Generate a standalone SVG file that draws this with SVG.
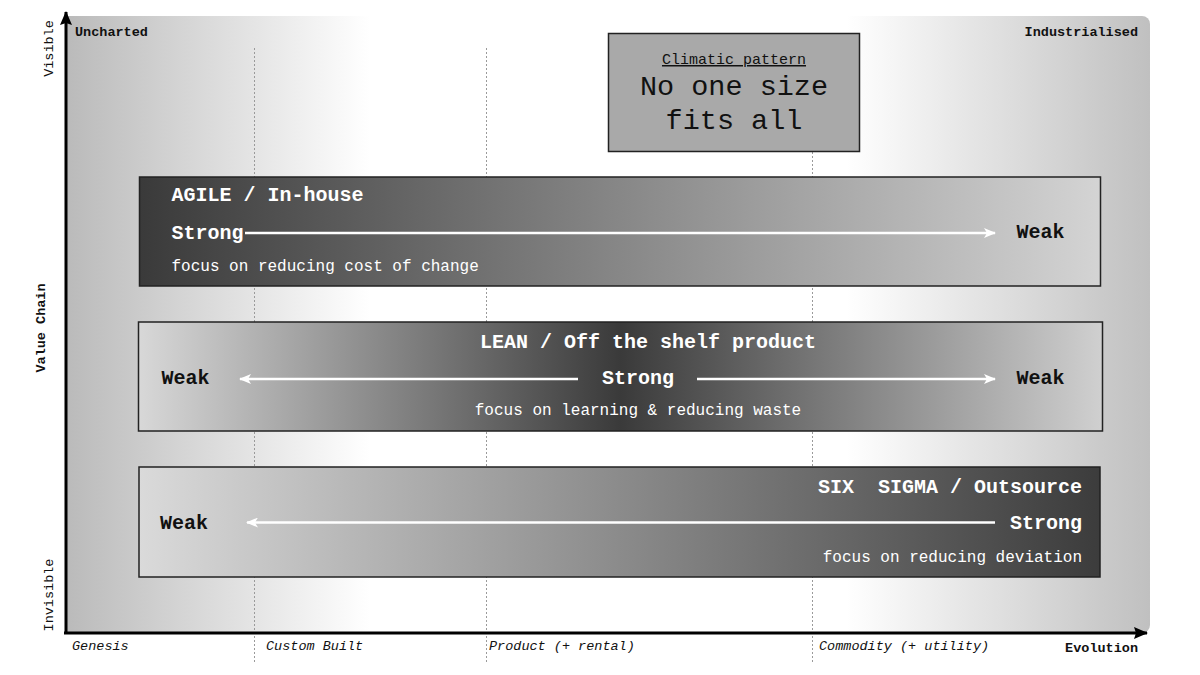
<svg xmlns="http://www.w3.org/2000/svg" width="1200" height="675" viewBox="0 0 1200 675">
<defs>
  <linearGradient id="bg" x1="0" y1="0" x2="1" y2="0">
    <stop offset="0" stop-color="#bababa"/>
    <stop offset="0.28" stop-color="#ffffff"/>
    <stop offset="0.72" stop-color="#ffffff"/>
    <stop offset="1" stop-color="#c0c0c0"/>
  </linearGradient>
  <linearGradient id="g1" x1="0" y1="0" x2="1" y2="0">
    <stop offset="0" stop-color="#3a3a3a"/>
    <stop offset="1" stop-color="#d4d4d4"/>
  </linearGradient>
  <linearGradient id="g2" x1="0" y1="0" x2="1" y2="0">
    <stop offset="0" stop-color="#d8d8d8"/>
    <stop offset="0.5" stop-color="#3a3a3a"/>
    <stop offset="1" stop-color="#d0d0d0"/>
  </linearGradient>
  <linearGradient id="g3" x1="0" y1="0" x2="1" y2="0">
    <stop offset="0" stop-color="#dadada"/>
    <stop offset="1" stop-color="#3c3c3c"/>
  </linearGradient>
  <marker id="wa" viewBox="0 0 12 10" refX="11" refY="5" markerWidth="12" markerHeight="10" markerUnits="userSpaceOnUse" orient="auto">
    <path d="M0,0 L12,5 L0,10 L3,5 z" fill="#ffffff"/>
  </marker>
  <marker id="ba" viewBox="0 0 14 12" refX="13" refY="6" markerWidth="14" markerHeight="12" markerUnits="userSpaceOnUse" orient="auto">
    <path d="M0,0 L14,6 L0,12 L2,6 z" fill="#000000"/>
  </marker>
</defs>
<style>
  .mono { font-family: "Liberation Mono", "Courier New", monospace; }
  .ax { font-family: "Liberation Mono", "Courier New", monospace; font-size: 13.5px; fill: #111; }
  .axb { font-weight: bold; }
  .axi { font-style: italic; }
  .grid { stroke: #9a9a9a; stroke-width: 1; stroke-dasharray: 2 2; fill: none; }
  .box { stroke: #222; stroke-width: 1.5; }
  .tb { font-family: "Liberation Mono", "Courier New", monospace; font-size: 20px; font-weight: bold; }
  .tn { font-family: "Liberation Mono", "Courier New", monospace; font-size: 16px; }
  .w { fill: #ffffff; }
  .k { fill: #111111; }
  .arr { stroke: #ffffff; stroke-width: 2.5; fill: none; marker-end: url(#wa); }
</style>

<!-- background -->
<path d="M66,16 H1142 A8,8 0 0 1 1150,24 V625 A8,8 0 0 1 1142,633 H66 Z" fill="url(#bg)"/>

<!-- grid lines -->
<g id="grid">
  <line class="grid" x1="254.5" y1="48" x2="254.5" y2="662"/>
  <line class="grid" x1="486.5" y1="48" x2="486.5" y2="662"/>
  <line class="grid" x1="812.5" y1="48" x2="812.5" y2="662"/>
</g>

<!-- axes -->
<g id="axes">
  <line x1="66" y1="634" x2="66" y2="12" stroke="#000" stroke-width="3" marker-end="url(#ba)"/>
  <line x1="64" y1="633" x2="1147" y2="633" stroke="#000" stroke-width="3" marker-end="url(#ba)"/>
  <text class="ax axb" x="75" y="36">Uncharted</text>
  <text class="ax axb" x="1138" y="36" text-anchor="end">Industrialised</text>
  <text class="ax" transform="translate(53,48.5) rotate(-90)" text-anchor="middle">Visible</text>
  <text class="ax" transform="translate(53,595) rotate(-90)" text-anchor="middle">Invisible</text>
  <text class="ax axb" transform="translate(45,328) rotate(-90)" text-anchor="middle">Value Chain</text>
  <text class="ax axi" x="72" y="650">Genesis</text>
  <text class="ax axi" x="266" y="650">Custom Built</text>
  <text class="ax axi" x="489" y="650">Product (+ rental)</text>
  <text class="ax axi" x="819" y="650">Commodity (+ utility)</text>
  <text class="ax axb" x="1138" y="652" text-anchor="end">Evolution</text>
</g>

<!-- climatic pattern -->
<g id="climatic">
  <rect x="608.5" y="33.5" width="251" height="118" fill="#a9a9a9" class="box"/>
  <text class="mono k" x="734" y="64" font-size="15" text-anchor="middle" text-decoration="underline">Climatic pattern</text>
  <text class="mono k" x="734" y="95" font-size="28.5" text-anchor="middle">No one size</text>
  <text class="mono k" x="734" y="128.5" font-size="28.5" text-anchor="middle">fits all</text>
</g>

<!-- AGILE -->
<g id="agile">
  <rect x="139.5" y="177" width="961" height="109" fill="url(#g1)" class="box"/>
  <text class="tb w" x="171.5" y="200.5">AGILE / In-house</text>
  <text class="tb w" x="171.5" y="238.5">Strong</text>
  <text class="tb k" x="1016.5" y="238">Weak</text>
  <text class="tn w" x="171.5" y="271">focus on reducing cost of change</text>
</g>

<!-- LEAN -->
<g id="lean">
  <rect x="138.5" y="322" width="964" height="109" fill="url(#g2)" class="box"/>
  <text class="tb w" x="648" y="348" text-anchor="middle">LEAN / Off the shelf product</text>
  <text class="tb k" x="161.5" y="384">Weak</text>
  <text class="tb w" x="638" y="384" text-anchor="middle">Strong</text>
  <text class="tb k" x="1016.5" y="384">Weak</text>
  <text class="tn w" x="638" y="414.5" text-anchor="middle">focus on learning &amp; reducing waste</text>
</g>

<!-- SIX SIGMA -->
<g id="sixsigma">
  <rect x="139" y="467" width="961" height="110" fill="url(#g3)" class="box"/>
  <text class="tb w" x="1082" y="493" text-anchor="end" xml:space="preserve">SIX  SIGMA / Outsource</text>
  <text class="tb k" x="160" y="529">Weak</text>
  <text class="tb w" x="1082" y="528.5" text-anchor="end">Strong</text>
  <text class="tn w" x="1082" y="561.5" text-anchor="end">focus on reducing deviation</text>
</g>

<!-- connectors -->
<g id="connectors">
  <line class="arr" x1="245" y1="233" x2="995" y2="233"/>
  <line class="arr" x1="578" y1="379" x2="240" y2="379"/>
  <line class="arr" x1="697" y1="379" x2="995" y2="379"/>
  <line class="arr" x1="995" y1="522.5" x2="247" y2="522.5"/>
</g>
</svg>
